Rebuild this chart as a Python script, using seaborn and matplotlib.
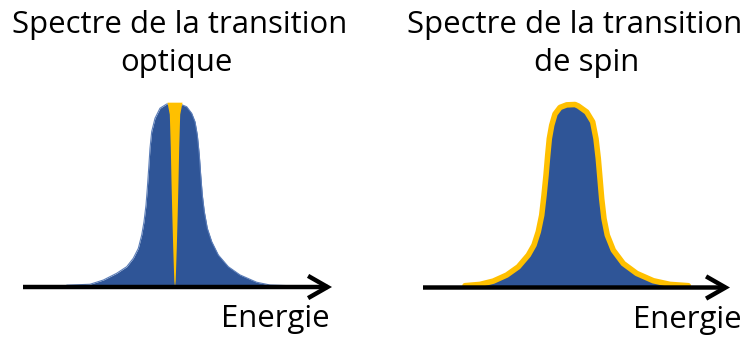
import matplotlib
matplotlib.use("Agg")
import matplotlib.pyplot as plt
import seaborn as sns
import pandas as pd

# ---- data (energy in arbitrary units, intensity normalised) ----
optical_energy = [-10.78, -8.45, -7.12, -5.78, -4.78, -4.12, -3.62, -3.28, -3.05, -2.85,
                  -2.72, -2.58, -2.45, -2.28, -1.95, -1.45, -0.78, 0.0, 0.55, 1.22,
                  1.72, 2.05, 2.28, 2.48, 2.62, 2.78, 2.98, 3.28, 3.72, 4.38,
                  5.38, 6.55, 8.22, 9.55, 11.55]
optical_intensity = [0.010, 0.015, 0.038, 0.075, 0.111, 0.157, 0.211, 0.284, 0.357, 0.448,
                     0.539, 0.649, 0.758, 0.849, 0.922, 0.977, 1.000, 1.000, 1.000, 0.985,
                     0.949, 0.903, 0.831, 0.721, 0.612, 0.503, 0.412, 0.321, 0.248, 0.175,
                     0.111, 0.066, 0.026, 0.011, 0.007]

# narrow spectral hole (yellow spike) in the optical line
hole_height = [1.01, 0.945, 0.764, 0.58, 0.40, 0.22, 0.036, 0.0]
hole_halfwidth = [0.75, 0.52, 0.42, 0.35, 0.27, 0.18, 0.07, 0.0]

spin_energy = [-10.75, -9.25, -7.92, -6.58, -5.42, -4.42, -3.85, -3.42, -3.08, -2.85,
               -2.65, -2.48, -2.32, -2.08, -1.75, -1.25, -0.58, 0.25, 0.58, 1.42,
               2.02, 2.35, 2.58, 2.75, 2.92, 3.15, 3.48, 4.08, 5.08, 6.42,
               8.08, 9.75, 11.58]
spin_intensity = [0.010, 0.017, 0.035, 0.068, 0.113, 0.177, 0.232, 0.305, 0.395, 0.504,
                  0.613, 0.722, 0.813, 0.886, 0.948, 0.984, 0.998, 1.000, 0.992, 0.959,
                  0.905, 0.813, 0.704, 0.595, 0.485, 0.376, 0.286, 0.204, 0.131, 0.077,
                  0.037, 0.017, 0.010]

titles_line1 = ["Spectre de la transition", "Spectre de la transition"]
titles_line2 = ["optique", "de spin"]
axis_label = "Energie"

BLUE = "#2F5597"
YELLOW = "#FFC000"

sns.set_theme(style="white")
plt.rcParams["font.family"] = ["Open Sans", "DejaVu Sans"]

W, H = 750, 338
fig = plt.figure(figsize=(7.5, 3.38), dpi=100)

def make_ax(left_px, center_px, base_px):
    ax = fig.add_axes([left_px / W, 0, 375 / W, 1])
    ax.set_xlim((left_px - center_px) / 10, (left_px + 375 - center_px) / 10)
    b = H - base_px
    ax.set_ylim(-b / 183, (H - b) / 183)
    ax.axis("off")
    return ax

ax1 = make_ax(0, 174.5, 287)
ax2 = make_ax(375, 572.5, 287.5)

# left: optical line with spectral hole
df1 = pd.DataFrame({"E": optical_energy, "I": optical_intensity})
ax1.fill_between(df1["E"], 0, df1["I"], color=BLUE, lw=0, zorder=1)
sns.lineplot(data=df1, x="E", y="I", ax=ax1, color="#5B7DB8", lw=0.8, sort=False, zorder=1.5)
hx_l = [-w for w in hole_halfwidth]
ax1.fill_betweenx(hole_height, hx_l, hole_halfwidth, color=YELLOW, lw=0, zorder=2)

# right: spin line with yellow outline
df2 = pd.DataFrame({"E": spin_energy, "I": spin_intensity})
ax2.fill_between(df2["E"], 0, df2["I"], color=BLUE, lw=0, zorder=1)
sns.lineplot(data=df2, x="E", y="I", ax=ax2, color=YELLOW, lw=4.0, sort=False,
             zorder=2, solid_capstyle="round", solid_joinstyle="round")

# energy axes as arrows
for ax, (x0, x1) in [(ax1, (-15.15, 15.75)), (ax2, (-14.95, 15.75))]:
    ax.annotate("", xy=(x1, 0), xytext=(x0, 0),
                arrowprops=dict(arrowstyle="->,head_length=1.4,head_width=0.8",
                                mutation_scale=10, lw=3.2, color="black",
                                shrinkA=0, shrinkB=0, capstyle="butt",
                                joinstyle="miter"),
                zorder=3, annotation_clip=False)

# fit the title font size to the width of the title in the picture (335 px)
renderer = fig.canvas.get_renderer()
probe = fig.text(0, 0, titles_line1[0], fontsize=20)
w = probe.get_window_extent(renderer).width
probe.remove()
FS = 20 * 335 / w

def ftext(x, y, s, ha="center"):
    fig.text(x / W, 1 - y / H, s, ha=ha, va="baseline", fontsize=FS, color="black")

ftext(179.5, 33, titles_line1[0])
ftext(176, 71, titles_line2[0])
ftext(575, 33, titles_line1[1])
ftext(587, 71, titles_line2[1])
ftext(330, 327, axis_label, ha="right")
ftext(742, 328, axis_label, ha="right")

fig.savefig("out.png", dpi=100)
